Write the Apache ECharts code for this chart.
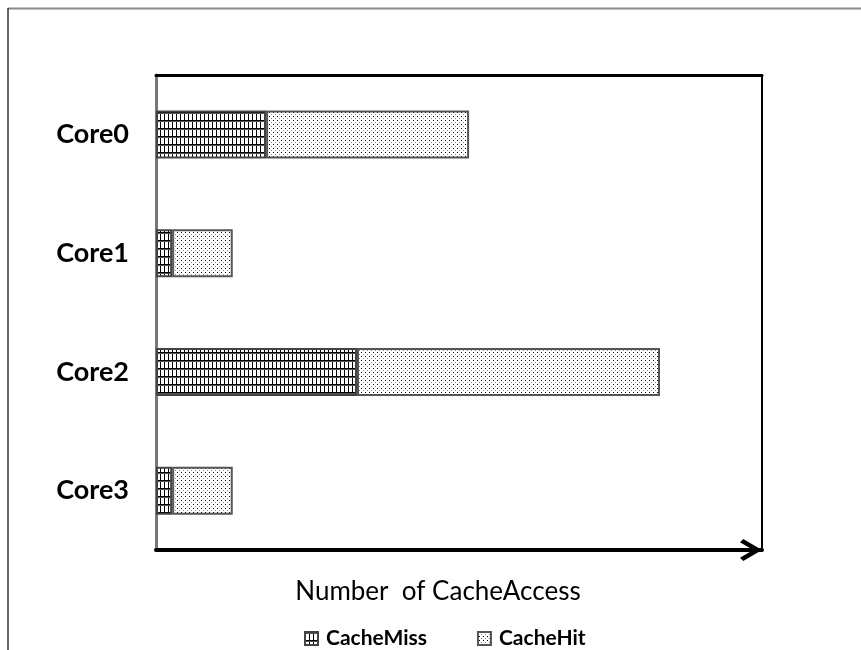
<!DOCTYPE html>
<html>
<head>
<meta charset="utf-8">
<script src="https://cdn.jsdelivr.net/npm/echarts@6/dist/echarts.min.js"></script>
<style>
html,body{margin:0;padding:0;background:#fff;}
#chart{width:861px;height:650px;}
</style>
</head>
<body>
<div id="chart"></div>
<script>
const categories = ['Core0', 'Core1', 'Core2', 'Core3'];
const cacheMiss = [10.9, 1.6, 19.9, 1.6];
const cacheHit = [20.1, 6.0, 30.0, 6.0];
const seriesNames = ['CacheMiss', 'CacheHit'];
const axisName = 'Number  of CacheAccess';
const xMax = 60;

function makePattern(w, h, draw) {
  const c = document.createElement('canvas');
  c.width = w; c.height = h;
  const ctx = c.getContext('2d');
  ctx.fillStyle = '#fff';
  ctx.fillRect(0, 0, w, h);
  draw(ctx);
  return { image: c, repeat: 'repeat' };
}
const gridPattern = makePattern(4, 8, function (ctx) {
  ctx.fillStyle = '#000';
  ctx.fillRect(0, 0, 1, 8);
  ctx.fillRect(0, 0, 4, 1);
  ctx.fillStyle = '#555';
  ctx.fillRect(0, 1, 4, 1);
});
const dotPattern = makePattern(4, 4, function (ctx) {
  ctx.fillStyle = '#000';
  ctx.fillRect(1, 0, 1, 1);
  ctx.fillStyle = '#888';
  ctx.fillRect(3, 2, 1, 1);
});

const chart = echarts.init(document.getElementById('chart'));
const font = 'Lato';
chart.setOption({
  animation: false,
  backgroundColor: '#fff',
  graphic: [
    { type: 'line', shape: { x1: 8, y1: 8.5, x2: 861, y2: 8.5 }, style: { stroke: '#888', lineWidth: 2 } },
    { type: 'line', shape: { x1: 8, y1: 8, x2: 8, y2: 650 }, style: { stroke: '#333', lineWidth: 1.5 } }
  ],
  grid: { left: 156, right: 99, top: 75, bottom: 100 },
  legend: {
    data: seriesNames,
    left: 299,
    top: 623,
    icon: 'rect',
    itemWidth: 13,
    itemHeight: 13,
    itemGap: 50,
    textStyle: { fontFamily: font, fontWeight: 'bold', fontSize: 21, color: '#000', padding: [0, 0, 0, 3] }
  },
  xAxis: [{
    type: 'value',
    min: 0,
    max: xMax,
    name: axisName,
    nameLocation: 'middle',
    nameGap: 29,
    nameTextStyle: { fontFamily: font, fontSize: 26, color: '#000', padding: [0, 42, 0, 0] },
    axisLine: {
      show: true,
      lineStyle: { color: '#000', width: 4 },
      symbol: ['none', 'path://M10,0 L20,17 L17,20 L10,8 L3,20 L0,17 Z'],
      symbolSize: [22, 22],
      symbolOffset: [0, -11]
    },
    axisTick: { show: false },
    axisLabel: { show: false },
    splitLine: { show: false }
  }, {
    type: 'value',
    position: 'top',
    min: 0,
    max: xMax,
    axisLine: { show: true, onZero: false, lineStyle: { color: '#000', width: 3 } },
    axisTick: { show: false },
    axisLabel: { show: false },
    splitLine: { show: false }
  }],
  yAxis: [{
    type: 'category',
    data: categories,
    inverse: true,
    axisLine: { show: true, onZero: false, lineStyle: { color: '#777', width: 3 } },
    axisTick: { show: false },
    axisLabel: { margin: 27, fontFamily: font, fontWeight: 'bold', fontSize: 27, color: '#000' },
    splitLine: { show: false }
  }, {
    type: 'category',
    data: categories,
    inverse: true,
    position: 'right',
    axisLine: { show: true, onZero: false, lineStyle: { color: '#000', width: 2 } },
    axisTick: { show: false },
    axisLabel: { show: false },
    splitLine: { show: false }
  }],
  series: [{
    name: seriesNames[0],
    type: 'bar',
    stack: 'total',
    barWidth: 48,
    data: cacheMiss,
    itemStyle: { color: gridPattern, borderColor: '#444', borderWidth: 2 }
  }, {
    name: seriesNames[1],
    type: 'bar',
    stack: 'total',
    barWidth: 48,
    data: cacheHit,
    itemStyle: { color: dotPattern, borderColor: '#555', borderWidth: 2 }
  }]
});
</script>
</body>
</html>
